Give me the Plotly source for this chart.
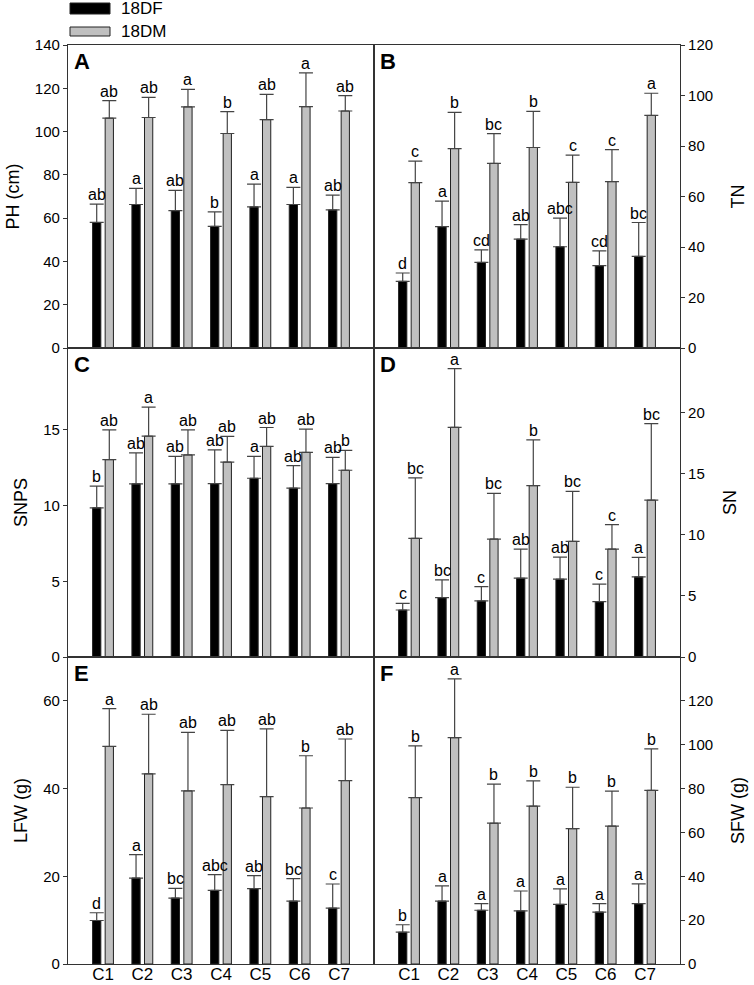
import plotly.graph_objects as go
from plotly.subplots import make_subplots

categories = ["C1", "C2", "C3", "C4", "C5", "C6", "C7"]
series_names = ["18DF", "18DM"]

# A - plant height
ph_df = [58.0, 66.3, 63.5, 56.2, 65.2, 66.3, 63.8]
ph_df_err = [8.5, 7.5, 9.3, 6.7, 10.5, 7.9, 6.8]
ph_dm = [106.2, 106.5, 111.4, 99.1, 105.5, 111.5, 109.5]
ph_dm_err = [8.1, 9.3, 8.1, 10.1, 11.7, 15.6, 7.1]
ph_df_sig = ["ab", "a", "ab", "b", "a", "a", "ab"]
ph_dm_sig = ["ab", "ab", "a", "b", "ab", "a", "ab"]
ph_ticks = [0, 20, 40, 60, 80, 100, 120, 140]

# B - tiller number
tn_df = [26.4, 48.1, 33.9, 43.1, 40.1, 32.6, 36.3]
tn_df_err = [3.3, 10.1, 5.0, 5.8, 11.3, 5.9, 13.4]
tn_dm = [65.5, 79.0, 73.1, 79.4, 65.6, 65.9, 92.1]
tn_dm_err = [8.5, 14.3, 11.8, 14.3, 10.8, 12.7, 8.8]
tn_df_sig = ["d", "a", "cd", "ab", "abc", "cd", "bc"]
tn_dm_sig = ["c", "b", "bc", "b", "c", "c", "a"]
tn_ticks = [0, 20, 40, 60, 80, 100, 120]

# C - SNPS
snps_df = [9.85, 11.43, 11.43, 11.45, 11.8, 11.15, 11.45]
snps_df_err = [1.43, 2.04, 1.82, 2.23, 1.45, 1.48, 1.73]
snps_dm = [13.03, 14.58, 13.34, 12.87, 13.9, 13.51, 12.33]
snps_dm_err = [1.97, 1.91, 1.66, 1.69, 1.25, 1.53, 1.31]
snps_df_sig = ["b", "ab", "ab", "ab", "a", "ab", "ab"]
snps_dm_sig = ["ab", "a", "ab", "ab", "ab", "ab", "b"]
snps_ticks = [0, 5, 10, 15]

# D - SN
sn_df = [3.84, 4.85, 4.58, 6.44, 6.36, 4.52, 6.55]
sn_df_err = [0.54, 1.45, 1.17, 2.38, 1.8, 1.43, 1.59]
sn_dm = [9.7, 18.77, 9.64, 14.0, 9.45, 8.82, 12.82]
sn_dm_err = [4.93, 4.79, 3.73, 3.75, 4.08, 2.0, 6.25]
sn_df_sig = ["c", "bc", "c", "ab", "ab", "c", "a"]
sn_dm_sig = ["bc", "a", "bc", "b", "bc", "c", "bc"]
sn_ticks = [0, 5, 10, 15, 20]

# E - leaf fresh weight
lfw_df = [9.92, 19.6, 15.04, 16.79, 17.18, 14.35, 12.75]
lfw_df_err = [1.76, 5.36, 2.21, 3.59, 2.97, 5.12, 5.49]
lfw_dm = [49.6, 43.36, 39.47, 40.92, 38.17, 35.57, 41.83]
lfw_dm_err = [8.64, 13.59, 13.35, 12.36, 15.42, 11.91, 9.47]
lfw_df_sig = ["d", "a", "bc", "abc", "ab", "bc", "c"]
lfw_dm_sig = ["a", "ab", "ab", "ab", "ab", "b", "ab"]
lfw_ticks = [0, 20, 40, 60]

# F - stem fresh weight
sfw_df = [14.5, 28.7, 24.5, 24.2, 27.2, 23.7, 27.5]
sfw_df_err = [3.4, 6.9, 3.0, 9.1, 7.1, 3.8, 9.0]
sfw_dm = [75.9, 103.2, 64.2, 72.0, 61.7, 62.9, 79.2]
sfw_dm_err = [23.6, 26.8, 17.8, 11.5, 18.9, 15.9, 18.9]
sfw_df_sig = ["b", "a", "a", "a", "a", "a", "a"]
sfw_dm_sig = ["b", "a", "b", "b", "b", "b", "b"]
sfw_ticks = [0, 20, 40, 60, 80, 100, 120]

panels = [
    ("A", "PH (cm)", 140, ph_ticks, ph_df, ph_df_err, ph_dm, ph_dm_err, ph_df_sig, ph_dm_sig),
    ("B", "TN", 120, tn_ticks, tn_df, tn_df_err, tn_dm, tn_dm_err, tn_df_sig, tn_dm_sig),
    ("C", "SNPS", 20.4, snps_ticks, snps_df, snps_df_err, snps_dm, snps_dm_err, snps_df_sig, snps_dm_sig),
    ("D", "SN", 25.25, sn_ticks, sn_df, sn_df_err, sn_dm, sn_dm_err, sn_df_sig, sn_dm_sig),
    ("E", "LFW (g)", 70, lfw_ticks, lfw_df, lfw_df_err, lfw_dm, lfw_dm_err, lfw_df_sig, lfw_dm_sig),
    ("F", "SFW (g)", 140, sfw_ticks, sfw_df, sfw_df_err, sfw_dm, sfw_dm_err, sfw_df_sig, sfw_dm_sig),
]

W, H = 754, 985
col_px = [(68, 374), (374, 680)]
row_px = [(45, 348), (348, 657), (657, 964)]

FONT = "Liberation Sans, Arial, sans-serif"
bar_w = 0.21
offsets = [-0.265, 0.055]
fills = ["black", "#c0c0c0"]
shift_px = 6.3

fig = make_subplots(rows=3, cols=2, horizontal_spacing=0, vertical_spacing=0)

for i, (letter, ytitle, ymax, yticks, df, df_err, dm, dm_err, df_sig, dm_sig) in enumerate(panels):
    row, col = i // 2 + 1, i % 2 + 1
    for k, (vals, errs) in enumerate([(df, df_err), (dm, dm_err)]):
        fig.add_trace(go.Bar(
            x=categories, y=vals, name=series_names[k],
            width=bar_w, offset=offsets[k],
            marker=dict(color=fills[k], line=dict(color="#222", width=1)),
            error_y=dict(type="data", array=errs, arrayminus=[0] * len(errs),
                         symmetric=False, color="#444", thickness=1.2, width=7),
            showlegend=False,
        ), row=row, col=col)
    for k, (vals, errs, sig) in enumerate([(df, df_err, df_sig), (dm, dm_err, dm_sig)]):
        for c, v, e, s in zip(categories, vals, errs, sig):
            fig.add_annotation(x=c, y=v + e, text=s, showarrow=False,
                               xshift=-shift_px if k == 0 else shift_px,
                               yanchor="bottom", yshift=-1,
                               font=dict(size=16, color="black", family=FONT),
                               row=row, col=col)
    ax = i + 1
    xref = "x domain" if ax == 1 else f"x{ax} domain"
    yref = "y domain" if ax == 1 else f"y{ax} domain"
    fig.add_annotation(xref=xref, yref=yref, x=0.012, y=0.995, text=f"<b>{letter}</b>",
                       showarrow=False, xanchor="left", yanchor="top",
                       font=dict(size=22, color="black", family=FONT))

    x0, x1 = col_px[col - 1]
    y0, y1 = row_px[row - 1]
    fig.update_xaxes(domain=[x0 / W, x1 / W], type="category", range=[-0.89, 6.89],
                     showline=True, linecolor="#333", linewidth=1.2, mirror=True,
                     ticks="", showticklabels=(row == 3), showgrid=False, zeroline=False,
                     tickfont=dict(size=17, color="black", family=FONT),
                     ticklabelstandoff=-6,
                     row=row, col=col)
    fig.update_yaxes(domain=[1 - y1 / H, 1 - y0 / H], range=[0, ymax], tickvals=yticks,
                     side="left" if col == 1 else "right",
                     showline=True, linecolor="#333", linewidth=1.2, mirror=True,
                     ticks="outside", ticklen=4, tickcolor="#333",
                     showgrid=False, zeroline=False,
                     tickfont=dict(size=15, color="black", family=FONT),
                     title=dict(text=ytitle, font=dict(size=18, color="black", family=FONT),
                                standoff=10 if col == 1 else 19),
                     row=row, col=col)

# legend drawn as swatches and labels above panel A
legend_rows = [(3, 14), (27, 36)]
for k, (t, b) in enumerate(legend_rows):
    fig.add_shape(type="rect", xref="paper", yref="paper",
                  x0=70 / W, x1=110 / W, y0=1 - b / H, y1=1 - t / H,
                  fillcolor=fills[k], line=dict(color="#222", width=1))
    fig.add_annotation(xref="paper", yref="paper", x=119 / W, y=1 - (t + b) / 2 / H,
                       text=series_names[k], showarrow=False, xanchor="left",
                       yanchor="middle", font=dict(size=17, color="black", family=FONT))

fig.update_layout(
    template="none",
    width=W, height=H,
    margin=dict(l=0, r=0, t=0, b=0),
    barmode="overlay",
    paper_bgcolor="white", plot_bgcolor="white",
    font=dict(family=FONT, color="black"),
)

fig.write_html("out.html", config={"displayModeBar": False},
               post_script="document.body.style.margin = '0px';")
